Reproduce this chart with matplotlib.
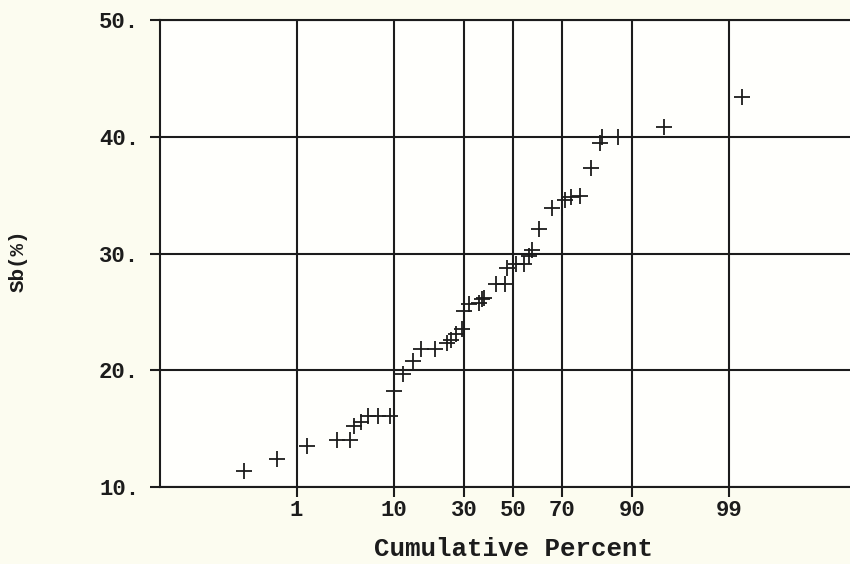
import numpy as np
import matplotlib
matplotlib.use("Agg")
import matplotlib.pyplot as plt
from matplotlib.ticker import FixedLocator, FuncFormatter
from statistics import NormalDist

# Cumulative percent (normal probability axis) and Sb content (%)
cum_percent = [0.19, 0.56, 1.35, 2.9, 4.0, 4.4, 5.1, 6.0, 7.4, 9.3,
               10.0, 11.9, 14.0, 16.0, 20.2, 23.8, 25.1, 26.9, 29.1, 29.9,
               31.8, 35.8, 37.0, 37.8, 42.9, 46.7, 47.6, 51.5, 54.9, 56.7,
               58.0, 61.0, 66.3, 71.3, 73.2, 76.5, 79.8, 82.5, 83.1, 87.1,
               94.8, 99.3]
sb_percent = [11.4, 12.4, 13.5, 14.0, 14.0, 15.2, 15.6, 16.1, 16.1, 16.1,
              18.2, 19.7, 20.8, 21.8, 21.8, 22.3, 22.6, 23.1, 23.5, 25.1,
              25.7, 25.8, 26.1, 26.2, 27.4, 27.4, 28.8, 29.1, 29.1, 29.8,
              30.3, 32.1, 33.9, 34.6, 34.8, 34.9, 37.3, 39.5, 40.0, 40.0,
              40.8, 43.4]

x_ticks = [1, 10, 30, 50, 70, 90, 99]
y_ticks = [10, 20, 30, 40, 50]

_nd = NormalDist()
_inv = np.vectorize(lambda v: _nd.inv_cdf(v / 100.0), otypes=[float])
_cdf = np.vectorize(lambda v: _nd.cdf(v) * 100.0, otypes=[float])


def pct_to_z(p):
    p = np.clip(np.asarray(p, dtype=float), 1e-6, 100 - 1e-6)
    return _inv(p)


def z_to_pct(z):
    return _cdf(np.asarray(z, dtype=float))


ink = "#1c1c1c"
font = ["Liberation Mono", "DejaVu Sans Mono"]

fig = plt.figure(figsize=(8.5, 5.64), dpi=100, facecolor="#fcfcf0")
ax = fig.add_axes([160 / 850, 1 - 487 / 564, 706 / 850, 467 / 564])
ax.set_facecolor("#fffffc")

ax.set_xscale("function", functions=(pct_to_z, z_to_pct))
zlim = 3.796
ax.set_xlim(float(z_to_pct(-zlim)), float(z_to_pct(zlim)))
ax.set_ylim(10, 50)

ax.xaxis.set_major_locator(FixedLocator(x_ticks))
ax.xaxis.set_minor_locator(FixedLocator([]))
ax.xaxis.set_major_formatter(FuncFormatter(lambda v, pos: f"{v:g}"))
ax.yaxis.set_major_locator(FixedLocator(y_ticks))
ax.yaxis.set_major_formatter(FuncFormatter(lambda v, pos: f"{v:.0f}."))

ax.grid(True, color=ink, linewidth=1.5)
ax.set_axisbelow(True)
for side in ("left", "bottom", "top"):
    ax.spines[side].set_color(ink)
    ax.spines[side].set_linewidth(1.5)
ax.spines["right"].set_visible(False)

ax.tick_params(axis="both", which="major", color=ink, width=1.5, length=7,
               labelcolor=ink, labelsize=16)
ax.tick_params(axis="y", pad=8)
ax.tick_params(axis="x", pad=2)
for lab in ax.get_xticklabels() + ax.get_yticklabels():
    lab.set_family(font)
    lab.set_fontweight("bold")

ax.plot(cum_percent, sb_percent, linestyle="none", marker="+",
        markersize=11, markeredgewidth=1.3, color=ink, clip_on=False)

fig.text(513 / 850, 1 - 549 / 564, "Cumulative Percent", ha="center",
         va="center", family=font, fontweight="bold", fontsize=18.5,
         color=ink)
fig.text(18 / 850, 1 - 261 / 564, "Sb(%)", ha="center", va="center",
         rotation=90, family=font, fontweight="bold", fontsize=15, color=ink)

fig.savefig("out.png", dpi=100, facecolor=fig.get_facecolor())
